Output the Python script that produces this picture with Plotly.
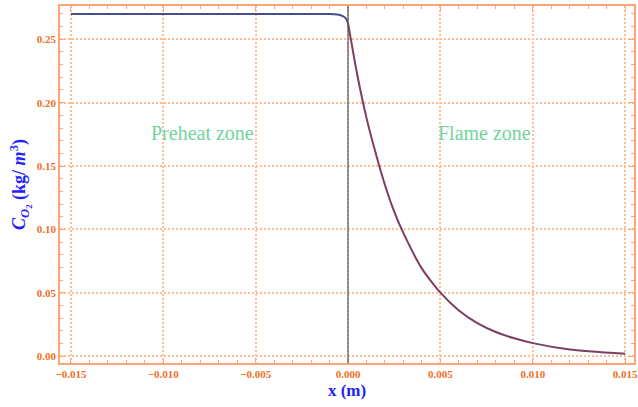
import plotly.graph_objects as go

# Preheat zone (x < 0) readings
pre_x = [-0.015, -0.010, -0.005, -0.002, -0.001, -0.0006, -0.0004, -0.0002, -0.0001, 0.0]
pre_y = [0.270, 0.270, 0.270, 0.270, 0.2699, 0.2696, 0.2690, 0.2676, 0.2660, 0.2630]

# Flame zone (x > 0) readings
fl_x = [0.0, 0.0005, 0.001, 0.0015, 0.002, 0.0025, 0.003, 0.004, 0.005, 0.006,
        0.007, 0.008, 0.009, 0.010, 0.012, 0.015]
fl_y = [0.263, 0.222, 0.188, 0.160, 0.135, 0.114, 0.097, 0.069, 0.050, 0.036,
        0.026, 0.019, 0.014, 0.0102, 0.0052, 0.0018]

x_ticks = [-0.015, -0.010, -0.005, 0.000, 0.005, 0.010, 0.015]
y_ticks = [0.00, 0.05, 0.10, 0.15, 0.20, 0.25]

zone_labels = ["Preheat zone", "Flame zone"]
zone_x = [-0.0079, 0.0074]
zone_y = [0.176, 0.176]

ORANGE_TXT = "#f2701f"
ORANGE_AX = "#ffa474"
GRID = "#ffbf96"
SERIF = "Liberation Serif"

fig = go.Figure()
fig.add_trace(go.Scatter(x=pre_x, y=pre_y, mode="lines",
                         line=dict(color="#464c8c", width=2, shape="spline", smoothing=0.6),
                         showlegend=False))
fig.add_trace(go.Scatter(x=fl_x, y=fl_y, mode="lines",
                         line=dict(color="#7a3e63", width=2, shape="spline", smoothing=0.6),
                         showlegend=False))

fig.add_shape(type="line", x0=0, x1=0, xref="x", y0=0, y1=1, yref="paper",
              line=dict(color="#555555", width=1.2), layer="above")

for t, xx, yy in zip(zone_labels, zone_x, zone_y):
    fig.add_annotation(x=xx, y=yy, text=t, showarrow=False,
                       font=dict(family=SERIF, size=20, color="#72d49c"))

axis_common = dict(
    showline=True, linecolor=ORANGE_AX, linewidth=1.5, mirror="ticks",
    ticks="inside", ticklen=5, tickcolor=ORANGE_AX, tickwidth=1,
    showgrid=True, gridcolor=GRID, griddash="2px,2px", gridwidth=1.5,
    zeroline=False, ticklabeloverflow="allow",
    tickfont=dict(family=SERIF, size=11, color=ORANGE_TXT, weight="bold"),
)

fig.update_layout(
    width=638, height=407,
    margin=dict(l=60, r=0, t=6, b=44),
    plot_bgcolor="white", paper_bgcolor="white",
    xaxis=dict(range=[-0.01559, 0.01548], tickvals=x_ticks, tickformat=".3f",
               minor=dict(ticks="inside", ticklen=3, tickcolor=ORANGE_AX, dtick=0.001,
                          showgrid=False),
               title=dict(text="<b>x (m)</b>", standoff=5,
                          font=dict(family=SERIF, size=17, color="#1f1fff")),
               **axis_common),
    yaxis=dict(range=[-0.0055, 0.2763], tickvals=y_ticks, tickformat=".2f",
               minor=dict(ticks="inside", ticklen=3, tickcolor=ORANGE_AX, dtick=0.01,
                          showgrid=False),
               title=dict(text="<b><i>C</i><sub><i>O</i><sub>2</sub></sub> (kg/ <i>m</i><sup>3</sup>)</b>",
                          standoff=6,
                          font=dict(family=SERIF, size=18, color="#1f1fff")),
               **axis_common),
)

fig.write_html("out.html")
